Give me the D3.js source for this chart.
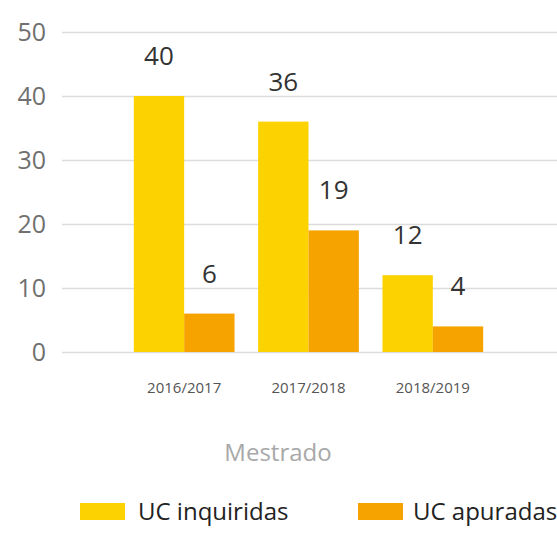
<!DOCTYPE html>
<meta charset="utf-8">
<head>
    <style>
        body { margin: 0; background: #fff; font-family: 'Open Sans', 'Noto Sans', sans-serif; }
        .grid line { stroke: #dcdcdc; stroke-width: 1.5; }
        .grid .domain { display: none; }
        .ylab text { fill: #707070; font-size: 25px; }
        .xlab text { fill: #555; font-size: 15px; }
        .val { fill: #333; font-size: 26px; text-anchor: middle; }
    </style>
</head>
<body>
    <svg width="557" height="536"></svg>

    <script src="https://d3js.org/d3.v7.min.js"></script>
    <script type="text/javascript">

        var years = ["2016/2017", "2017/2018", "2018/2019"];
        var series = ["UC inquiridas", "UC apuradas"];
        var inquiridas = [40, 36, 12];
        var apuradas = [6, 19, 4];
        var yTicks = [0, 10, 20, 30, 40, 50];
        var axisTitle = "Mestrado";

        var colors = ["#FCD200", "#F6A300"];

        var svg = d3.select("svg");

        var x = d3.scaleBand()
            .domain(years)
            .range([122, 495])
            .paddingInner(0.19)
            .paddingOuter(0.095);

        var sub = d3.scaleBand()
            .domain(series)
            .range([0, x.bandwidth()]);

        var y = d3.scaleLinear()
            .domain([0, 50])
            .range([352, 32]);

        // gridlines
        svg.append("g")
            .attr("class", "grid")
            .attr("transform", "translate(62,0)")
            .call(d3.axisLeft(y).tickValues(yTicks).tickSize(-500).tickFormat(""));

        svg.append("g")
            .attr("class", "ylab")
            .selectAll("text")
            .data(yTicks)
            .enter().append("text")
            .attr("x", 46)
            .attr("y", function (d) { return y(d); })
            .attr("dy", "0.35em")
            .attr("text-anchor", "end")
            .text(function (d) { return d; });

        var rows = years.map(function (yr, i) {
            return { year: yr, values: [inquiridas[i], apuradas[i]] };
        });

        var groups = svg.append("g")
            .selectAll("g")
            .data(rows)
            .enter().append("g")
            .attr("transform", function (d) { return "translate(" + x(d.year) + ",0)"; });

        groups.selectAll("rect")
            .data(function (d) { return d.values.map(function (v, j) { return { s: series[j], v: v, j: j }; }); })
            .enter().append("rect")
            .attr("x", function (d) { return sub(d.s); })
            .attr("y", function (d) { return y(d.v); })
            .attr("width", sub.bandwidth())
            .attr("height", function (d) { return y(0) - y(d.v); })
            .attr("fill", function (d) { return colors[d.j]; });

        groups.selectAll("text.val")
            .data(function (d) { return d.values.map(function (v, j) { return { s: series[j], v: v }; }); })
            .enter().append("text")
            .attr("class", "val")
            .attr("x", function (d) { return sub(d.s) + sub.bandwidth() / 2; })
            .attr("y", function (d) { return y(d.v) - 31; })
            .text(function (d) { return d.v; });

        // category labels
        svg.append("g")
            .attr("class", "xlab")
            .selectAll("text")
            .data(years)
            .enter().append("text")
            .attr("x", function (d) { return x(d) + x.bandwidth() / 2; })
            .attr("y", 388)
            .attr("dy", "0.35em")
            .attr("text-anchor", "middle")
            .text(function (d) { return d; });

        svg.append("text")
            .attr("x", 278)
            .attr("y", 461)
            .attr("text-anchor", "middle")
            .attr("fill", "#a8a8a8")
            .attr("font-size", "24px")
            .text(axisTitle);

        // legend
        var legendX = [80, 358];
        var legend = svg.append("g")
            .selectAll("g")
            .data(series)
            .enter().append("g")
            .attr("transform", function (d, i) { return "translate(" + legendX[i] + ",503)"; });

        legend.append("rect")
            .attr("width", 45)
            .attr("height", 17)
            .attr("fill", function (d, i) { return colors[i]; });

        legend.append("text")
            .attr("x", function (d, i) { return i === 0 ? 58 : 55; })
            .attr("y", 17)
            .attr("fill", "#222")
            .attr("font-size", "24px")
            .text(function (d) { return d; });

    </script>
</body>
